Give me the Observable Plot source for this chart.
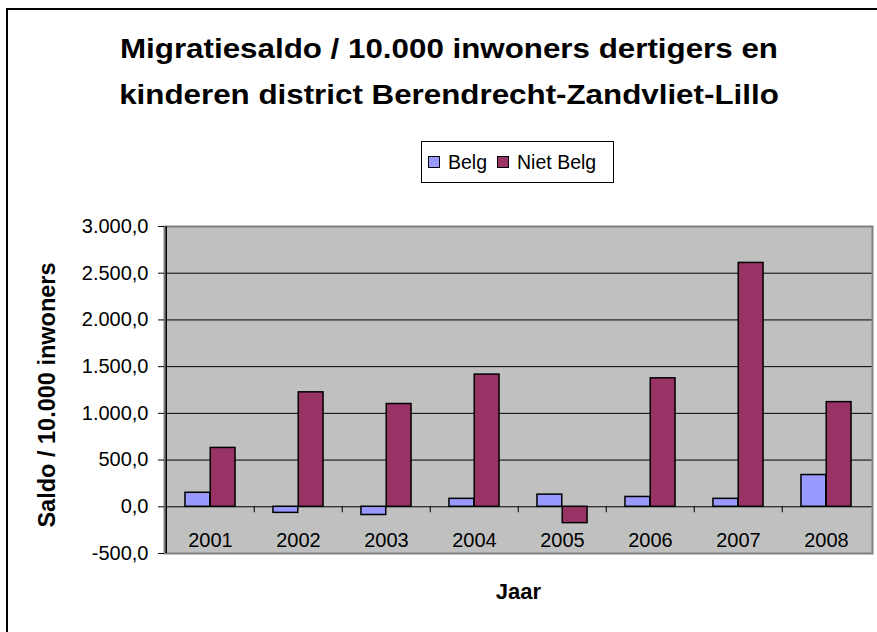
<!DOCTYPE html>
<html>
<head>
<meta charset="utf-8">
<script src="https://cdn.jsdelivr.net/npm/d3@7"></script>
<script src="https://cdn.jsdelivr.net/npm/@observablehq/plot@0.6"></script>
<style>
  body { margin: 0; background: #fff; font-family: Arial, "Liberation Sans", sans-serif; }
  #wrap { position: relative; width: 877px; height: 632px; overflow: hidden; }
  #border { position: absolute; left: 6px; top: 8px; width: 1000px; height: 1000px; border-left: 2px solid #000; border-top: 2px solid #000; box-sizing: border-box; pointer-events: none; }
  #header { position: relative; height: 200px; }
  .t { position: absolute; left: 0; width: 898px; text-align: center; font-weight: bold; font-size: 27px; line-height: 27px; transform: scaleX(1.16); transform-origin: 449px 0; white-space: nowrap; color: #000; }
  #legend { position: absolute; left: 421px; top: 141px; width: 193px; height: 42px; box-sizing: border-box; border: 1px solid #000; background: #fff; display: flex; align-items: center; font-size: 19.5px; color: #000; }
  .sw { display: inline-block; width: 10px; height: 10px; border: 1.5px solid #000; margin-left: 6px; margin-right: 8px; }
  #chart { position: absolute; left: 0; top: 200px; }
</style>
</head>
<body>
<div id="wrap">
  <div id="header">
    <div class="t" id="t1" style="top:36px"></div>
    <div class="t" id="t2" style="top:82px"></div>
    <div id="legend"></div>
  </div>
  <div id="chart"></div>
  <div id="border"></div>
</div>
<script>
const titleLines = ["Migratiesaldo / 10.000 inwoners dertigers en", "kinderen district Berendrecht-Zandvliet-Lillo"];
const years = ["2001", "2002", "2003", "2004", "2005", "2006", "2007", "2008"];
const belg = [150, -65, -88, 85, 130, 105, 85, 340];
const nietBelg = [630, 1225, 1100, 1415, -175, 1375, 2610, 1120];
const seriesNames = ["Belg", "Niet Belg"];
const seriesColors = ["#9999ff", "#993366"];
const yTicks = [-500, 0, 500, 1000, 1500, 2000, 2500, 3000];
const yLabel = "Saldo / 10.000 inwoners";
const xLabel = "Jaar";

document.getElementById("t1").textContent = titleLines[0];
document.getElementById("t2").textContent = titleLines[1];
const legend = document.getElementById("legend");
seriesNames.forEach((s, i) => {
  const sw = document.createElement("span");
  sw.className = "sw";
  sw.style.background = seriesColors[i];
  if (i > 0) sw.style.marginLeft = "10px";
  legend.appendChild(sw);
  const tx = document.createElement("span");
  tx.textContent = s;
  legend.appendChild(tx);
});

const rows = [];
years.forEach((y, i) => {
  rows.push({year: y, series: seriesNames[0], value: belg[i]});
  rows.push({year: y, series: seriesNames[1], value: nietBelg[i]});
});

const width = 877, height = 432;
const marginLeft = 164, marginRight = 5, marginTop = 26, marginBottom = 79;
const bw = (width - marginLeft - marginRight) / years.length;
const unit = bw / 3.5; // bar width (Excel gap width 150%)

const loc = d3.formatLocale({decimal: ",", thousands: ".", grouping: [3], currency: ["", ""], minus: "-"});
const fmt = loc.format(",.1f");

const chart = Plot.plot({
  width, height, marginLeft, marginRight, marginTop, marginBottom,
  style: {fontFamily: "Arial, 'Liberation Sans', sans-serif", fontSize: "20px", color: "#000", background: "transparent"},
  x: {type: "band", domain: years, padding: 0, axis: null},
  y: {domain: [-500, 3000], axis: null},
  marks: [
    Plot.frame({fill: "#c0c0c0", stroke: null}),
    Plot.gridY(yTicks, {stroke: "#000", strokeOpacity: 1, strokeWidth: 1}),
    Plot.frame({stroke: "#808080", strokeWidth: 2}),
    Plot.barY(rows.filter(d => d.series === seriesNames[0]), {
      x: "year", y: "value", fill: seriesColors[0], stroke: "#000", strokeWidth: 1.5,
      insetLeft: 0.75 * unit, insetRight: 1.75 * unit
    }),
    Plot.barY(rows.filter(d => d.series === seriesNames[1]), {
      x: "year", y: "value", fill: seriesColors[1], stroke: "#000", strokeWidth: 1.5,
      insetLeft: 1.75 * unit, insetRight: 0.75 * unit
    }),
    // category boundary tick marks below the zero line
    Plot.ruleX(years.slice(1), {x: d => d, dx: -bw / 2, y1: 0, y2: 0, insetBottom: -6, stroke: "#000"}),
    // y axis line
    Plot.ruleX([years[0]], {x: d => d, dx: -bw / 2, stroke: "#000", strokeWidth: 1.5}),
    Plot.axisY(yTicks, {tickFormat: fmt, tickSize: 6, tickPadding: 10, fontSize: 20, stroke: "#000", label: null}),
    Plot.text(years, {x: d => d, y: 0, dy: 34, text: d => d, fontSize: 20, fill: "#000"}),
    Plot.text([yLabel], {frameAnchor: "left", textAnchor: "middle", dx: -117, dy: 5, rotate: -90, text: d => d, fontSize: 23.5, fontWeight: "bold", fill: "#000"}),
    Plot.text([xLabel], {frameAnchor: "bottom", dy: 45, text: d => d, fontSize: 22, fontWeight: "bold", fill: "#000"})
  ]
});
document.getElementById("chart").appendChild(chart);
</script>
</body>
</html>
